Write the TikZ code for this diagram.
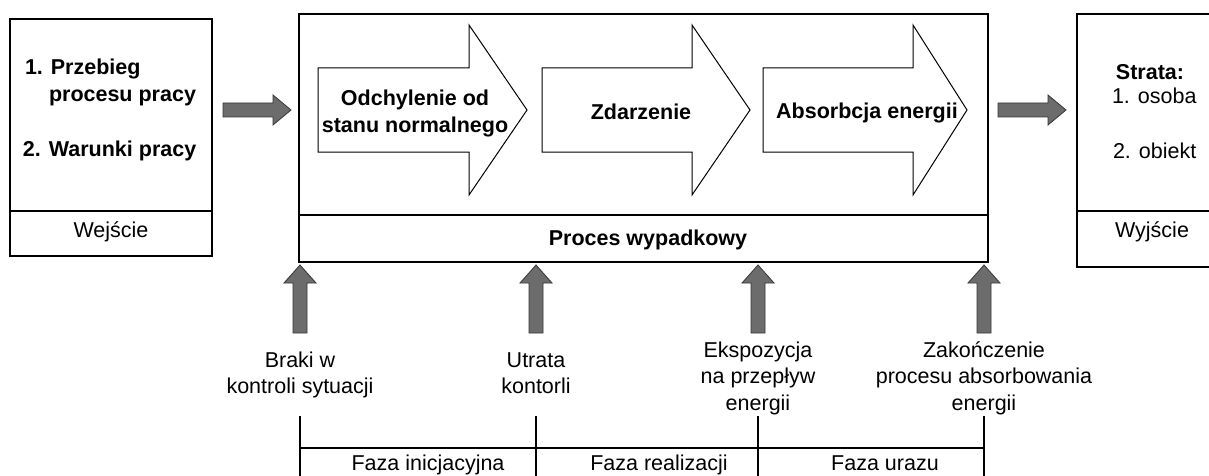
\documentclass[tikz,border=0pt]{standalone}
\usepackage{fontspec}
\setmainfont{Liberation Sans}
\usetikzlibrary{calc}

\definecolor{arrowgray}{RGB}{108,108,108}
\definecolor{arrowedge}{RGB}{55,55,55}

% invisible rule fixing the top of a multi-line label at 20pt above its first baseline
\newcommand\topstrut{\rule{0pt}{20pt}}

% filled gray arrow pointing right, from #1 (tail) to #2 (tip)
\newcommand\grayright[2]{%
  \path[grayarrow] let \p1=#1, \p2=#2 in
    (\x1,{\y1+7pt}) -- ({\x2-18pt},{\y1+7pt}) -- ({\x2-18pt},{\y1+15pt})
    -- (\x2,\y1) -- ({\x2-18pt},{\y1-15pt}) -- ({\x2-18pt},{\y1-7pt})
    -- (\x1,{\y1-7pt}) -- cycle;}

% filled gray arrow pointing up, from #1 (tail) to #2 (tip)
\newcommand\grayup[2]{%
  \path[grayarrow] let \p1=#1, \p2=#2 in
    ({\x1-7pt},\y1) -- ({\x1-7pt},{\y2-18pt}) -- ({\x1-16pt},{\y2-18pt})
    -- (\x1,\y2) -- ({\x1+16pt},{\y2-18pt}) -- ({\x1+7pt},{\y2-18pt})
    -- ({\x1+7pt},\y1) -- cycle;}

% white block arrow: body from #1 to #2, head from #2 to tip #3
\newcommand\blockarrow[3]{%
  \draw[bigarrow] (#1,68) -- (#2,68) -- (#2,25) -- (#3,110)
    -- (#2,195) -- (#2,152) -- (#1,152) -- cycle;}

\begin{document}
\begin{tikzpicture}[x=1pt,y=-1pt,
  frame/.style={draw=black, line width=1.3pt, inner sep=0pt, outer sep=0pt},
  rule/.style={draw=black, line width=1.3pt},
  bigarrow/.style={draw=black, line width=1pt, fill=white, line join=miter},
  grayarrow/.style={fill=arrowgray, draw=arrowedge, line width=0.8pt},
  txt/.style={font=\fontsize{21.5}{26.5}\selectfont, inner sep=0pt, outer sep=0pt},
  boldtxt/.style={font=\bfseries\fontsize{21.5}{27.5}\selectfont, inner sep=0pt, outer sep=0pt},
  lab/.style={txt, align=center, anchor=north}]
\useasboundingbox (0,0) rectangle (1209,476);
\clip (0,0) rectangle (1209,476);
\fill[white] (0,0) rectangle (1209,476);

% input box
\node[frame, anchor=north west, minimum width=202pt, minimum height=237pt] (inbox) at (10,19) {};
\draw[rule] ($(inbox.south west)+(0,-45)$) -- ($(inbox.south east)+(0,-45)$);
\node[boldtxt, anchor=base west] (in1) at (25,75) {1. Przebieg};
\node[boldtxt, anchor=base west] (in2) at (49,102) {procesu pracy};
\node[boldtxt, anchor=base west] (in3) at (23,157) {2. Warunki pracy};
\node[txt, anchor=base] (inlab) at (111,237) {Wejście};

% accident process box
\node[frame, anchor=north west, minimum width=689pt, minimum height=248pt] (proc) at (299,14) {};
\draw[rule] ($(proc.south west)+(0,-47)$) -- ($(proc.south east)+(0,-47)$);
\node[boldtxt, anchor=base] (proclab) at (648,245) {Proces wypadkowy};

% stages inside the process
\blockarrow{318}{469}{527}
\blockarrow{542}{692}{750}
\blockarrow{763}{913}{967}
\node[boldtxt, align=center, anchor=north] (st1) at (415,85) {\topstrut Odchylenie od\\stanu normalnego};
\node[boldtxt, anchor=base] (st2) at (641,120) {Zdarzenie};
\node[boldtxt, anchor=base] (st3) at (867,118) {Absorbcja energii};

% output box
\node[frame, anchor=north west, minimum width=150pt, minimum height=253pt] (outbox) at (1077,14) {};
\draw[rule] ($(outbox.south west)+(0,-56)$) -- ($(outbox.south east)+(0,-56)$);
\node[boldtxt, anchor=base] (out0) at (1150,80) {Strata:};
\node[txt, anchor=base west] (out1) at (1112,103) {1. osoba};
\node[txt, anchor=base west] (out2) at (1113,158) {2. obiekt};
\node[txt, anchor=base] (outlab) at (1152,237) {Wyjście};

% flow between the boxes
\coordinate (flow) at (0,110);
\grayright{($(inbox.east |- flow)+(11,0)$)}{($(proc.west |- flow)+(-8,0)$)}
\grayright{($(proc.east |- flow)+(10,0)$)}{($(outbox.west |- flow)+(-11,0)$)}

% events acting on the process
\node[lab] (ev1) at (300,347) {\topstrut Braki w\\kontroli sytuacji};
\node[lab] (ev2) at (536,347) {\topstrut Utrata\\kontorli};
\node[lab] (ev3) at (758,337) {\topstrut Ekspozycja\\na przepływ\\energii};
\node[lab] (ev4) at (984,337) {\topstrut Zakończenie\\procesu absorbowania\\energii};

\coordinate (tails) at (0,333);
\foreach \e in {ev1,ev2,ev3,ev4}
  \grayup{(\e.north |- tails)}{($(\e.north |- proc.south)+(0,3)$)};

% phase timeline
\coordinate (ticktop) at (0,416);
\coordinate (tickbot) at (0,482);
\coordinate (axis) at (0,448);
\foreach \e in {ev1,ev2,ev3,ev4}
  \draw[rule] (\e.north |- ticktop) -- (\e.north |- tickbot);
\draw[rule] (ev1.north |- axis) -- (ev4.north |- axis);
\node[txt, anchor=base] (ph1) at (428,470) {Faza inicjacyjna};
\node[txt, anchor=base] (ph2) at (659,470) {Faza realizacji};
\node[txt, anchor=base] (ph3) at (885,470) {Faza urazu};
\end{tikzpicture}
\end{document}
